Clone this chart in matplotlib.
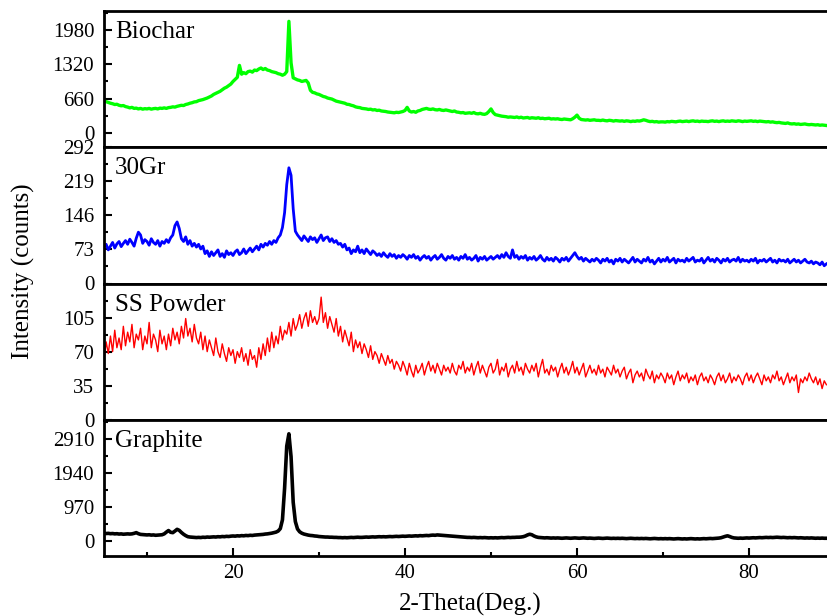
import numpy as np
import matplotlib.pyplot as plt
from matplotlib.ticker import MultipleLocator

plt.rcParams['font.family'] = ['Liberation Serif', 'DejaVu Serif']

# XRD scans, 2-theta from 5 deg in 0.25 deg steps (one row = 2.5 deg)
start, step = 5.0, 0.25

biochar = [
    620, 600, 585, 570, 560, 545, 550, 530, 520, 525,
    505, 495, 480, 490, 470, 475, 460, 470, 455, 465,
    460, 470, 455, 465, 470, 460, 475, 470, 480, 470,
    485, 490, 500, 495, 510, 520, 530, 525, 545, 555,
    570, 580, 595, 600, 620, 630, 640, 655, 670, 690,
    710, 740, 760, 780, 800, 830, 860, 880, 910, 940,
    990, 1030, 1070, 1300, 1130, 1160, 1140, 1180, 1190, 1170,
    1210, 1200, 1230, 1250, 1220, 1240, 1210, 1200, 1180, 1170,
    1160, 1140, 1130, 1110, 1130, 1180, 2150, 1350, 1060, 1040,
    1020, 1010, 990, 1000, 1010, 960, 820, 780, 770, 750,
    740, 720, 700, 690, 670, 660, 650, 630, 610, 600,
    590, 580, 570, 550, 545, 530, 520, 500, 490, 485,
    470, 465, 460, 450, 455, 440, 445, 430, 435, 420,
    415, 410, 400, 395, 390, 385, 395, 390, 400, 410,
    430, 490, 420, 400, 410, 395, 420, 430, 450, 460,
    470, 455, 450, 460, 445, 440, 450, 435, 430, 440,
    430, 420, 410, 420, 400, 395, 385, 390, 375, 380,
    385, 375, 390, 370, 365, 375, 360, 355, 370, 410,
    460, 390, 350, 340, 330, 320, 315, 310, 300, 305,
    300, 295, 305, 290, 300, 285, 290, 295, 280, 290,
    285, 280, 290, 275, 280, 270, 275, 280, 265, 270,
    265, 270, 260, 255, 265, 260, 255, 250, 270, 300,
    340, 280, 255, 250, 245, 250, 240, 245, 250, 240,
    240, 235, 245, 235, 230, 240, 235, 225, 235, 230,
    225, 230, 220, 230, 225, 215, 225, 220, 230, 225,
    235, 250, 240, 225, 215, 220, 210, 215, 205, 210,
    210, 205, 215, 210, 220, 215, 210, 220, 225, 215,
    220, 225, 215, 225, 230, 220, 225, 215, 225, 220,
    220, 215, 225, 230, 220, 225, 215, 225, 230, 220,
    225, 220, 230, 225, 220, 230, 225, 215, 225, 220,
    225, 230, 220, 225, 215, 225, 220, 215, 210, 215,
    205, 210, 200, 195, 200, 190, 185, 180, 190, 175,
    170, 175, 165, 170, 160, 165, 170, 160, 155, 160,
    155, 150, 155, 145, 150, 145, 140,
]

gr30 = [
    78, 84, 72, 80, 88, 76, 85, 90, 79, 86,
    92, 84, 95, 88, 80, 97, 110, 104, 86, 94,
    90, 82, 96, 88, 84, 92, 80, 90, 86, 94,
    88, 98, 104, 124, 132, 118, 96, 90, 100, 84,
    92, 80, 86, 78, 84, 74, 80, 64, 70, 58,
    68, 60, 66, 72, 58, 64, 56, 70, 62, 66,
    60, 68, 72, 62, 66, 74, 64, 70, 76, 68,
    74, 80, 72, 84, 78, 86, 82, 90, 84, 92,
    88, 98, 104, 120, 152, 212, 248, 232, 160, 112,
    104, 98, 92, 102, 96, 90, 100, 94, 98, 88,
    96, 104, 92, 98, 100, 90, 96, 88, 92, 84,
    86, 78, 84, 72, 76, 64, 72, 68, 80, 66,
    72, 64, 74, 68, 62, 70, 66, 60, 64, 58,
    66, 60, 56, 64, 58, 62, 54, 60, 56, 62,
    58, 52, 60, 56, 62, 54, 58, 50, 56, 60,
    54, 58, 50, 56, 60, 52, 56, 62, 54, 50,
    58, 54, 60, 52, 56, 50, 58, 54, 62, 52,
    56, 50, 54, 60, 48, 56, 52, 58, 50, 54,
    58, 52, 56, 60, 54, 62, 56, 66, 58, 54,
    72, 56, 60, 52, 58, 54, 60, 50, 56, 52,
    58, 50, 54, 60, 52, 48, 56, 50, 54, 48,
    56, 52, 46, 54, 50, 56, 48, 54, 60, 66,
    58, 52, 56, 48, 54, 50, 46, 52, 48, 54,
    50, 44, 52, 48, 54, 46, 50, 42, 52, 48,
    54, 46, 52, 48, 44, 50, 56, 46, 52, 48,
    44, 52, 48, 56, 46, 50, 42, 48, 54, 46,
    52, 48, 56, 46, 50, 54, 44, 52, 48, 50,
    46, 54, 48, 52, 56, 46, 50, 48, 54, 44,
    50, 56, 48, 52, 46, 54, 50, 44, 52, 48,
    54, 46, 50, 52, 48, 56, 46, 52, 48, 50,
    46, 52, 48, 54, 44, 50, 48, 52, 46, 50,
    54, 46, 50, 44, 52, 48, 50, 46, 52, 44,
    48, 52, 46, 50, 44, 48, 52, 46, 44, 48,
    42, 46, 44, 40, 46, 38, 42,
]

ss_powder = [
    62, 80, 68, 86, 70, 92, 74, 84, 72, 96,
    76, 90, 80, 98, 74, 88, 82, 94, 72, 86,
    78, 100, 74, 88, 82, 70, 92, 78, 86, 72,
    88, 76, 94, 82, 90, 78, 96, 84, 104, 86,
    94, 80, 98, 84, 78, 90, 72, 86, 70, 82,
    74, 66, 84, 70, 64, 78, 68, 60, 74, 66,
    72, 58, 70, 64, 74, 60, 68, 56, 72, 62,
    66, 54, 74, 62, 78, 66, 84, 70, 90, 74,
    86, 78, 96, 82, 92, 88, 100, 86, 104, 92,
    98, 108, 94, 104, 110, 96, 112, 100, 106, 98,
    104, 126, 100, 110, 94, 106, 98, 90, 104, 86,
    96, 80, 92, 84, 76, 90, 70, 82, 74, 80,
    68, 78, 72, 64, 76, 62, 70, 66, 58, 68,
    62, 56, 66, 58, 62, 52, 60, 56, 50, 60,
    54, 46, 58, 50, 44, 56, 48, 52, 58, 46,
    54, 60, 50, 56, 48, 58, 52, 46, 56, 50,
    54, 48, 58, 50, 46, 56, 52, 60, 48, 54,
    50, 58, 46, 54, 60, 48, 56, 50, 44, 54,
    58, 48, 52, 62, 46, 54, 50, 58, 44, 52,
    56, 48, 60, 50, 54, 46, 58, 52, 48, 56,
    50, 58, 44, 54, 62, 48, 52, 46, 56, 50,
    54, 44, 52, 58, 48, 54, 46, 52, 60, 48,
    54, 46, 52, 58, 44, 50, 56, 48, 52, 46,
    56, 48, 52, 44, 54, 50, 46, 56, 48, 52,
    44, 50, 54, 42, 48, 52, 38, 46, 50, 44,
    48, 40, 52, 46, 42, 50, 38, 46, 42, 48,
    44, 38, 48, 42, 46, 36, 44, 50, 40, 46,
    42, 48, 38, 44, 40, 46, 36, 44, 48, 40,
    44, 38, 46, 42, 36, 44, 48, 40, 46, 38,
    42, 48, 38, 44, 40, 46, 42, 36, 44, 48,
    40, 46, 38, 44, 48, 42, 36, 46, 40, 44,
    38, 46, 42, 50, 40, 44, 36, 42, 48, 38,
    44, 40, 46, 28, 42, 38, 44, 40, 48, 42,
    38, 44, 36, 42, 32, 40, 36,
]

graphite = [
    220, 210, 215, 205, 210, 200, 205, 195, 200, 190,
    195, 200, 195, 200, 215, 235, 205, 185, 180, 175,
    170, 175, 165, 170, 160, 165, 170, 175, 200, 250,
    295, 245, 235, 280, 330, 300, 240, 190, 150, 120,
    110, 105, 100, 95, 100, 95, 105, 100, 110, 105,
    110, 115, 110, 120, 115, 125, 120, 130, 125, 135,
    140, 135, 145, 140, 150, 145, 155, 150, 160, 155,
    165, 170, 175, 180, 185, 195, 200, 210, 220, 235,
    250, 280, 350, 600, 1500, 2700, 3050, 2400, 1100, 550,
    340, 260, 220, 195, 180, 165, 155, 150, 140, 135,
    125, 120, 115, 110, 110, 105, 105, 100, 100, 95,
    95, 90, 95, 90, 95, 100, 95, 100, 105, 100,
    100, 105, 110, 105, 110, 115, 110, 115, 120, 115,
    120, 115, 120, 125, 120, 125, 130, 125, 130, 135,
    130, 135, 140, 135, 140, 145, 140, 150, 145, 150,
    155, 150, 160, 165, 160, 170, 165, 160, 155, 150,
    145, 140, 135, 130, 125, 120, 115, 110, 105, 100,
    100, 95, 100, 95, 90, 95, 90, 95, 90, 85,
    90, 85, 90, 85, 90, 95, 90, 95, 100, 95,
    100, 100, 105, 105, 110, 120, 140, 170, 190, 175,
    140, 115, 100, 95, 90, 85, 90, 85, 80, 85,
    80, 85, 80, 75, 80, 85, 80, 75, 80, 85,
    80, 75, 80, 85, 80, 75, 80, 75, 70, 75,
    80, 75, 70, 75, 80, 75, 70, 75, 70, 75,
    70, 75, 70, 65, 70, 75, 70, 65, 70, 65,
    70, 65, 70, 65, 60, 65, 70, 65, 60, 65,
    60, 65, 60, 65, 60, 55, 60, 65, 60, 55,
    60, 55, 60, 65, 60, 55, 60, 55, 60, 65,
    60, 65, 70, 65, 70, 75, 80, 90, 110, 130,
    145, 125, 100, 85, 80, 75, 80, 75, 80, 85,
    80, 85, 90, 85, 90, 95, 90, 95, 100, 95,
    100, 95, 100, 105, 100, 95, 100, 95, 90, 95,
    90, 95, 90, 85, 90, 85, 80, 85, 80, 85,
    80, 75, 80, 75, 80, 75, 75,
]

names = ['Biochar', '30Gr', 'SS Powder', 'Graphite']
series = [biochar, gr30, ss_powder, graphite]
yticks = [[0, 660, 1320, 1980], [0, 73, 146, 219, 292],
          [0, 35, 70, 105], [0, 970, 1940, 2910]]
yminor = [330, 36.5, 17.5, 485]
ylims = [(-280, 2350), (0, 292), (0, 140), (-430, 3450)]
colors = ['#00ff00', '#0000ff', '#ff0000', '#000000']
widths = [2.4, 2.0, 1.0, 2.6]

fig = plt.figure(figsize=(8.27, 6.16), dpi=100)

W, H = 827, 616
left, right, top, bottom = 104, 835, 11, 556
ph = (bottom - top) / 4

for i in range(4):
    y = np.array(series[i])
    x = start + step * np.arange(len(y))
    ax = fig.add_axes([left / W, 1 - (top + (i + 1) * ph) / H,
                       (right - left) / W, ph / H])
    ax.plot(x, y, color=colors[i], lw=widths[i])
    ax.set_xlim(5, 90)
    ax.set_ylim(*ylims[i])
    ax.set_yticks(yticks[i])
    ax.yaxis.set_minor_locator(MultipleLocator(yminor[i]))
    ax.xaxis.set_major_locator(MultipleLocator(20))
    ax.xaxis.set_minor_locator(MultipleLocator(10))
    ax.tick_params(which='both', direction='in', labelsize=15, width=1.5)
    ax.tick_params(which='major', length=6)
    ax.tick_params(which='minor', length=3)
    ax.tick_params(axis='y', pad=7)
    ax.tick_params(axis='x', pad=6)
    if i < 3:
        ax.tick_params(axis='x', which='both', bottom=False, labelbottom=False)
    for s in ax.spines.values():
        s.set_linewidth(2)
    ax.text(0.015, 0.80, names[i], transform=ax.transAxes,
            fontsize=18, va='baseline', ha='left')

fig.text(0.028, 1 - 271 / H, 'Intensity (counts)', rotation=90,
         fontsize=18, va='center', ha='center')
fig.text(470 / W, 1 - 604 / H, '2-Theta(Deg.)', fontsize=18,
         va='center', ha='center')

fig.savefig('out.png', dpi=100)
